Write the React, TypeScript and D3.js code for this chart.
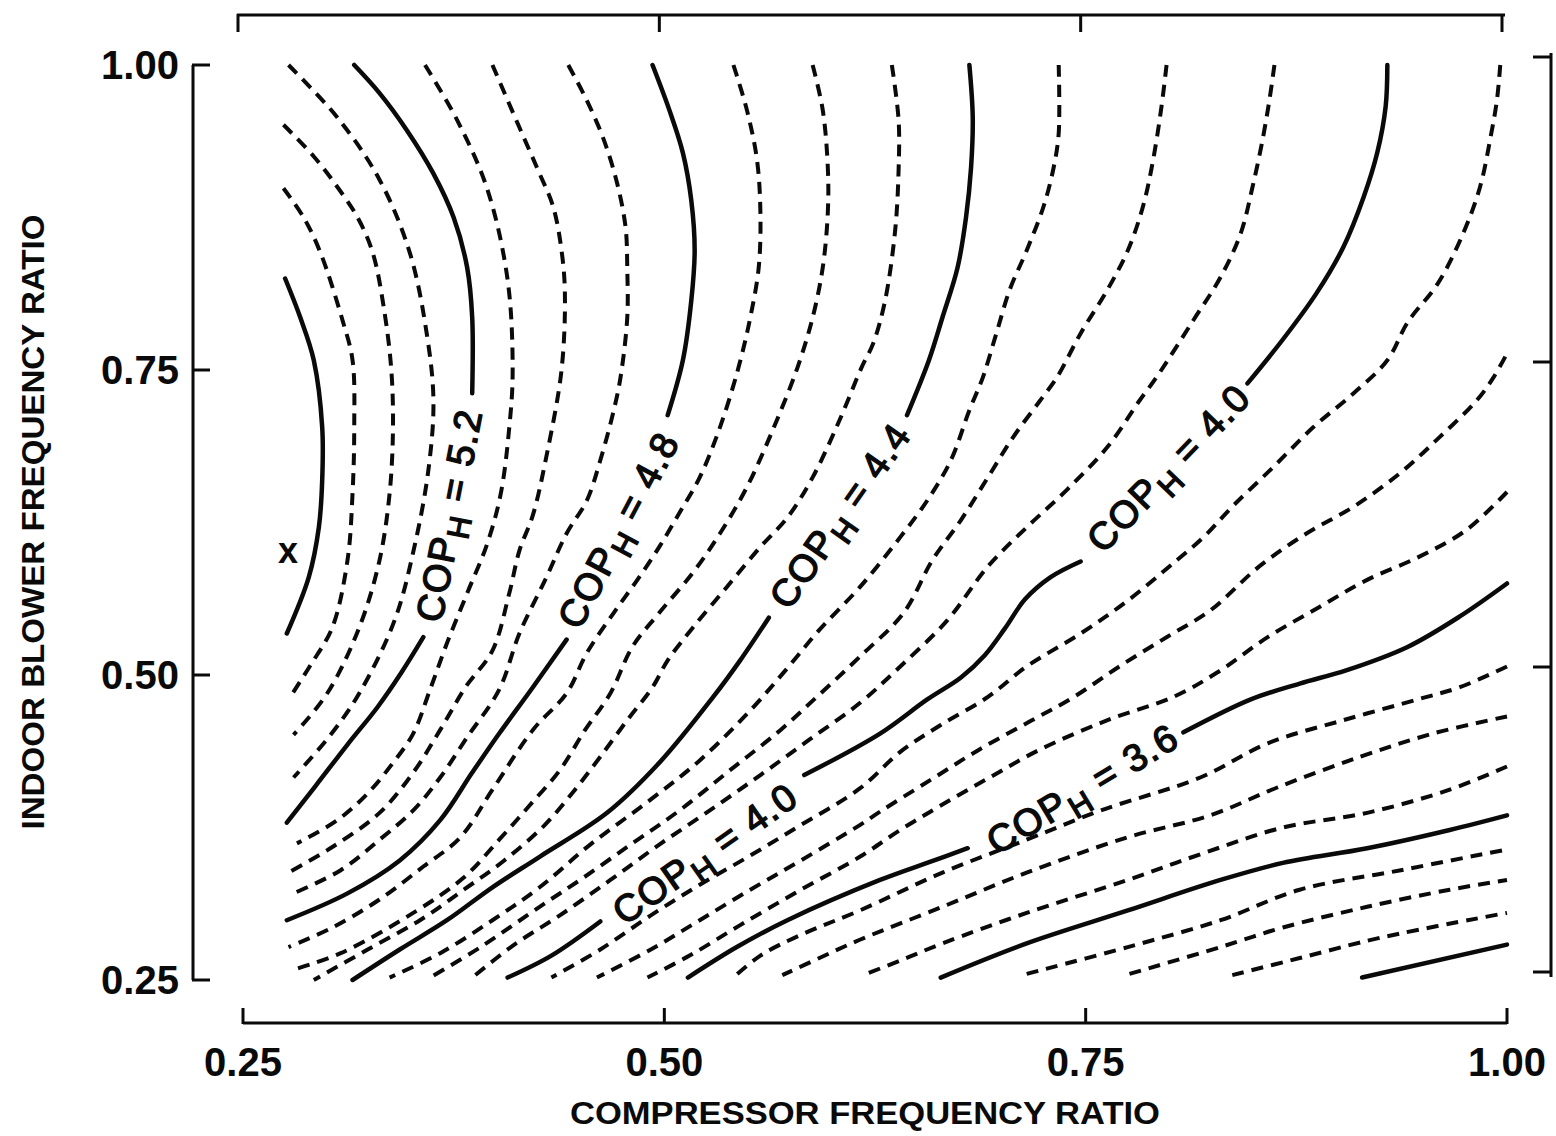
import React from "react";
import * as d3 from "d3";

// axis ticks
const X_TICKS = [0.25, 0.5, 0.75, 1.0];
const Y_TICKS = [0.25, 0.5, 0.75, 1.0];
const TICK_LABELS = ["0.25", "0.50", "0.75", "1.00"];

// contour lines, [compressor ratio, blower ratio]
const COP_56 = [[.275,.825],[.284,.793],[.292,.758],[.297,.703],[.297,.660],[.295,.621],[.289,.580],[.276,.534]];
const COP_55 = [[.274,.899],[.286,.875],[.296,.846],[.309,.791],[.315,.758],[.316,.703],[.315,.649],[.312,.594],[.303,.539],[.290,.508],[.278,.482]];
const COP_54 = [[.274,.951],[.292,.925],[.306,.900],[.318,.875],[.327,.846],[.334,.797],[.338,.750],[.339,.703],[.337,.649],[.331,.594],[.319,.539],[.300,.485],[.280,.451]];
const COP_53 = [[.277,1.0],[.306,.957],[.331,.906],[.349,.846],[.359,.780],[.363,.725],[.360,.668],[.352,.607],[.340,.545],[.319,.485],[.302,.451],[.280,.416]];
const COP_52A = [[.316,1.0],[.331,.977],[.347,.947],[.363,.911],[.375,.875],[.383,.834],[.386,.793],[.386,.731]];
const COP_52B = [[.357,.531],[.344,.502],[.330,.474],[.312,.443],[.293,.409],[.276,.379]];
const COP_51 = [[.358,1.0],[.377,.955],[.395,.898],[.407,.824],[.410,.748],[.408,.703],[.403,.649],[.395,.608],[.383,.567],[.371,.526],[.361,.488],[.351,.452],[.339,.428],[.324,.403],[.306,.381],[.282,.362]];
const COP_50 = [[.398,1.0],[.413,.952],[.425,.914],[.434,.884],[.439,.848],[.441,.813],[.439,.750],[.430,.679],[.422,.631],[.414,.602],[.408,.567],[.398,.520],[.382,.490],[.367,.455],[.351,.420],[.331,.387],[.303,.359],[.277,.338]];
const COP_49 = [[.443,1.0],[.454,.971],[.464,.939],[.472,.903],[.477,.867],[.478,.834],[.478,.793],[.474,.744],[.470,.717],[.462,.676],[.454,.643],[.442,.616],[.430,.580],[.414,.534],[.402,.488],[.383,.449],[.367,.416],[.351,.389],[.331,.365],[.308,.340],[.280,.321]];
const COP_48A = [[.493,1.0],[.503,.963],[.511,.928],[.516,.889],[.518,.848],[.516,.807],[.511,.758],[.502,.713]];
const COP_48B = [[.442,.529],[.422,.490],[.402,.452],[.386,.420],[.367,.381],[.343,.348],[.312,.321],[.276,.299]];
const COP_47 = [[.541,1.0],[.549,.963],[.555,.922],[.557,.879],[.556,.834],[.551,.793],[.544,.752],[.533,.703],[.521,.662],[.509,.633],[.497,.605],[.484,.578],[.470,.551],[.454,.518],[.442,.485],[.422,.455],[.398,.406],[.379,.367],[.357,.343],[.331,.316],[.303,.293],[.277,.277]];
const COP_46 = [[.588,1.0],[.594,.963],[.597,.916],[.597,.879],[.594,.834],[.588,.793],[.579,.752],[.565,.703],[.549,.654],[.533,.616],[.517,.584],[.497,.551],[.481,.523],[.468,.485],[.453,.455],[.438,.422],[.420,.393],[.402,.365],[.381,.334],[.351,.305],[.308,.272],[.279,.258]];
const COP_45 = [[.635,1.0],[.639,.955],[.639,.914],[.637,.865],[.631,.807],[.624,.772],[.617,.752],[.604,.709],[.588,.662],[.573,.629],[.557,.605],[.537,.572],[.517,.539],[.502,.512],[.493,.490],[.478,.463],[.462,.433],[.447,.406],[.429,.377],[.405,.348],[.381,.324],[.355,.299],[.324,.275],[.292,.25]];
const COP_44A = [[.681,1.0],[.683,.957],[.682,.916],[.679,.875],[.674,.834],[.665,.793],[.657,.758],[.644,.713]];
const COP_44B = [[.562,.547],[.545,.512],[.529,.482],[.497,.428],[.466,.387],[.426,.351],[.398,.326],[.371,.299],[.343,.275],[.315,.25]];
const COP_43 = [[.734,1.0],[.734,.944],[.731,.916],[.725,.884],[.715,.848],[.705,.816],[.697,.780],[.689,.744],[.681,.717],[.670,.676],[.656,.643],[.640,.613],[.616,.572],[.592,.537],[.572,.504],[.551,.471],[.521,.430],[.492,.398],[.456,.361],[.426,.326],[.398,.299],[.367,.272],[.337,.252]];
const COP_42 = [[.798,1.0],[.795,.966],[.790,.922],[.784,.884],[.775,.848],[.763,.816],[.747,.780],[.733,.744],[.723,.725],[.707,.695],[.692,.662],[.676,.627],[.659,.594],[.642,.551],[.616,.515],[.592,.484],[.569,.455],[.539,.422],[.509,.389],[.480,.361],[.450,.332],[.426,.310],[.391,.277],[.361,.252]];
const COP_41 = [[.862,1.0],[.859,.971],[.855,.939],[.849,.900],[.842,.862],[.830,.826],[.814,.791],[.792,.744],[.782,.725],[.763,.687],[.739,.652],[.715,.621],[.692,.589],[.668,.545],[.640,.507],[.616,.477],[.586,.447],[.557,.418],[.527,.389],[.497,.361],[.468,.332],[.438,.303],[.411,.279],[.386,.252]];
const COP_40A = [[.929,1.0],[.928,.966],[.923,.928],[.915,.892],[.903,.851],[.887,.813],[.867,.775],[.846,.739]];
const COP_40B = [[.747,.593],[.729,.580],[.714,.562],[.702,.538],[.690,.516],[.676,.498],[.656,.480],[.628,.452],[.583,.418]];
const COP_40C = [[.462,.298],[.433,.270],[.407,.252]];
const COP_39 = [[.996,1.0],[.994,.971],[.990,.939],[.984,.900],[.974,.862],[.959,.821],[.941,.789],[.929,.758],[.909,.731],[.885,.703],[.861,.670],[.837,.638],[.820,.613],[.804,.594],[.775,.561],[.747,.534],[.715,.507],[.692,.482],[.664,.459],[.640,.437],[.616,.407],[.581,.377],[.551,.352],[.521,.328],[.492,.303],[.462,.275],[.433,.252]];
const COP_38 = [[.999,.761],[.992,.744],[.982,.725],[.960,.695],[.937,.666],[.909,.638],[.881,.616],[.853,.589],[.824,.553],[.798,.531],[.770,.507],[.743,.482],[.717,.462],[.687,.439],[.658,.414],[.628,.388],[.616,.377],[.581,.348],[.551,.324],[.521,.299],[.492,.275],[.460,.252]];
const COP_37 = [[1.0,.650],[.976,.619],[.948,.597],[.917,.578],[.889,.556],[.858,.531],[.828,.502],[.802,.482],[.763,.463],[.723,.439],[.693,.416],[.664,.393],[.640,.373],[.616,.351],[.581,.324],[.545,.295],[.515,.270],[.490,.252]];
const COP_36A = [[1.0,.575],[.972,.548],[.941,.523],[.905,.504],[.877,.493],[.848,.480],[.808,.453]];
const COP_36B = [[.680,.358],[.658,.347],[.628,.332],[.573,.299],[.543,.277],[.514,.252]];
const COP_35 = [[1.0,.507],[.972,.490],[.947,.480],[.903,.463],[.858,.444],[.818,.416],[.759,.389],[.715,.365],[.665,.338],[.616,.307],[.581,.287],[.557,.270],[.541,.252]];
const COP_34 = [[1.0,.466],[.956,.452],[.913,.433],[.864,.408],[.824,.385],[.775,.367],[.715,.338],[.665,.310],[.616,.283],[.592,.268],[.570,.254]];
const COP_33 = [[1.0,.425],[.966,.406],[.917,.387],[.867,.375],[.820,.354],[.775,.332],[.715,.305],[.665,.280],[.640,.266],[.618,.254]];
const COP_32 = [[.664,.252],[.715,.280],[.775,.307],[.830,.332],[.867,.346],[.917,.358],[.966,.373],[1.0,.385]];
const COP_31 = [[.715,.255],[.775,.277],[.830,.299],[.877,.324],[.937,.340],[1.0,.357]];
const COP_30 = [[.776,.255],[.830,.277],[.867,.293],[.917,.310],[.966,.324],[1.0,.332]];
const COP_29 = [[.837,.254],[.877,.268],[.926,.285],[1.0,.305]];
const COP_28 = [[.914,.252],[1.0,.279]];

// solid lines every 0.4, dashed between
const CONTOURS = [
  { level: 5.6, solid: true, segs: [COP_56] },
  { level: 5.5, solid: false, segs: [COP_55] },
  { level: 5.4, solid: false, segs: [COP_54] },
  { level: 5.3, solid: false, segs: [COP_53] },
  { level: 5.2, solid: true, segs: [COP_52A, COP_52B] },
  { level: 5.1, solid: false, segs: [COP_51] },
  { level: 5.0, solid: false, segs: [COP_50] },
  { level: 4.9, solid: false, segs: [COP_49] },
  { level: 4.8, solid: true, segs: [COP_48A, COP_48B] },
  { level: 4.7, solid: false, segs: [COP_47] },
  { level: 4.6, solid: false, segs: [COP_46] },
  { level: 4.5, solid: false, segs: [COP_45] },
  { level: 4.4, solid: true, segs: [COP_44A, COP_44B] },
  { level: 4.3, solid: false, segs: [COP_43] },
  { level: 4.2, solid: false, segs: [COP_42] },
  { level: 4.1, solid: false, segs: [COP_41] },
  { level: 4.0, solid: true, segs: [COP_40A, COP_40B, COP_40C] },
  { level: 3.9, solid: false, segs: [COP_39] },
  { level: 3.8, solid: false, segs: [COP_38] },
  { level: 3.7, solid: false, segs: [COP_37] },
  { level: 3.6, solid: true, segs: [COP_36A, COP_36B] },
  { level: 3.5, solid: false, segs: [COP_35] },
  { level: 3.4, solid: false, segs: [COP_34] },
  { level: 3.3, solid: false, segs: [COP_33] },
  { level: 3.2, solid: true, segs: [COP_32] },
  { level: 3.1, solid: false, segs: [COP_31] },
  { level: 3.0, solid: false, segs: [COP_30] },
  { level: 2.9, solid: false, segs: [COP_29] },
  { level: 2.8, solid: true, segs: [COP_28] },
];

// inline labels: value, centre [x, y], rotation
const LABEL_VALUES = ["5.2", "4.8", "4.4", "4.0", "4.0", "3.6"];
const LABEL_POS = [[.372, .631], [.4725, .619], [.604, .631], [.799, .670], [.524, .354], [.748, .407]];
const LABEL_ANGLE = [-79, -62, -55, -46, -35, -31];

const MAX_POINT = [0.2767, 0.601];

const FONT = "'Liberation Sans', Arial, Helvetica, sans-serif";

export default function App() {
  const W = 1556;
  const H = 1136;

  const x = d3.scaleLinear().domain([0.25, 1]).range([243, 1507]);
  const y = d3.scaleLinear().domain([0.25, 1]).range([980, 65]);

  const line = d3
    .line<number[]>()
    .x((d) => x(d[0]))
    .y((d) => y(d[1]))
    .curve(d3.curveCatmullRom.alpha(0.5));

  const leftX = 193;
  const bottomY = 1023;
  const topY = 15;
  const rightX = 1551;
  const ink = "#0a0a0a";

  return (
    <svg
      width={W}
      height={H}
      viewBox={`0 0 ${W} ${H}`}
      style={{ position: "absolute", left: 0, top: 0, display: "block", background: "#fff" }}
    >
      <rect width={W} height={H} fill="#fff" />

      {/* frame: left axis */}
      <line x1={leftX} x2={leftX} y1={y(1)} y2={y(0.25)} stroke={ink} strokeWidth={3} />
      {Y_TICKS.map((t) => (
        <line key={"yl" + t} x1={leftX - 1} x2={leftX + 17} y1={y(t)} y2={y(t)} stroke={ink} strokeWidth={3} />
      ))}
      {Y_TICKS.map((t, i) => (
        <text
          key={"ylab" + t}
          x={140}
          y={y(t) + 14}
          textAnchor="middle"
          fontFamily={FONT}
          fontWeight="bold"
          fontSize={40}
          fill={ink}
        >
          {TICK_LABELS[i]}
        </text>
      ))}

      {/* bottom axis */}
      <line x1={x(0.25)} x2={x(1)} y1={bottomY} y2={bottomY} stroke={ink} strokeWidth={3} />
      {X_TICKS.map((t) => (
        <line key={"xb" + t} x1={x(t)} x2={x(t)} y1={bottomY + 1} y2={bottomY - 15} stroke={ink} strokeWidth={3} />
      ))}
      {X_TICKS.map((t, i) => (
        <text
          key={"xlab" + t}
          x={x(t)}
          y={1076}
          textAnchor="middle"
          fontFamily={FONT}
          fontWeight="bold"
          fontSize={40}
          fill={ink}
        >
          {TICK_LABELS[i]}
        </text>
      ))}

      {/* top axis (slightly offset, as printed) */}
      <line x1={x(0.25) - 6} x2={x(1) - 2} y1={topY} y2={topY} stroke={ink} strokeWidth={3} />
      {X_TICKS.map((t) => (
        <line key={"xt" + t} x1={x(t) - 5} x2={x(t) - 5} y1={topY - 1} y2={topY + 17} stroke={ink} strokeWidth={3} />
      ))}

      {/* right axis */}
      <line x1={rightX} x2={rightX} y1={y(1) - 12} y2={y(0.25) - 3} stroke={ink} strokeWidth={3} />
      {Y_TICKS.map((t) => (
        <line key={"yr" + t} x1={rightX + 1} x2={rightX - 18} y1={y(t) - 8} y2={y(t) - 8} stroke={ink} strokeWidth={3} />
      ))}

      {/* axis titles */}
      <text
        x={865}
        y={1124}
        textAnchor="middle"
        fontFamily={FONT}
        fontWeight="bold"
        fontSize={32}
        textLength={590}
        lengthAdjust="spacingAndGlyphs"
        fill={ink}
      >
        COMPRESSOR FREQUENCY RATIO
      </text>
      <text
        transform={`translate(44, 522) rotate(-90)`}
        textAnchor="middle"
        fontFamily={FONT}
        fontWeight="bold"
        fontSize={32}
        textLength={615}
        lengthAdjust="spacingAndGlyphs"
        fill={ink}
      >
        INDOOR BLOWER FREQUENCY RATIO
      </text>

      {/* contour lines */}
      {CONTOURS.map((c) =>
        c.segs.map((s, j) => (
          <path
            key={`${c.level}-${j}`}
            d={line(s) || ""}
            fill="none"
            stroke={ink}
            strokeWidth={c.solid ? 4.5 : 4}
            strokeDasharray={c.solid ? undefined : "12 8"}
            strokeLinecap={c.solid ? "round" : "butt"}
          />
        ))
      )}

      {/* contour labels */}
      {LABEL_VALUES.map((v, i) => (
        <text
          key={"lab" + i}
          transform={`translate(${x(LABEL_POS[i][0])}, ${y(LABEL_POS[i][1])}) rotate(${LABEL_ANGLE[i]})`}
          textAnchor="middle"
          dy="0.36em"
          fontFamily={FONT}
          fontSize={38}
          letterSpacing={1.5}
          fill={ink}
          stroke={ink}
          strokeWidth={1.4}
        >
          <tspan>COP</tspan>
          <tspan dy={10} fontSize={31}>H</tspan>
          <tspan dy={-10}>{" = " + v}</tspan>
        </text>
      ))}

      {/* local maximum */}
      <text
        x={x(MAX_POINT[0])}
        y={y(MAX_POINT[1]) + 11}
        textAnchor="middle"
        fontFamily={FONT}
        fontWeight="bold"
        fontSize={36}
        fill={ink}
      >
        x
      </text>
    </svg>
  );
}
